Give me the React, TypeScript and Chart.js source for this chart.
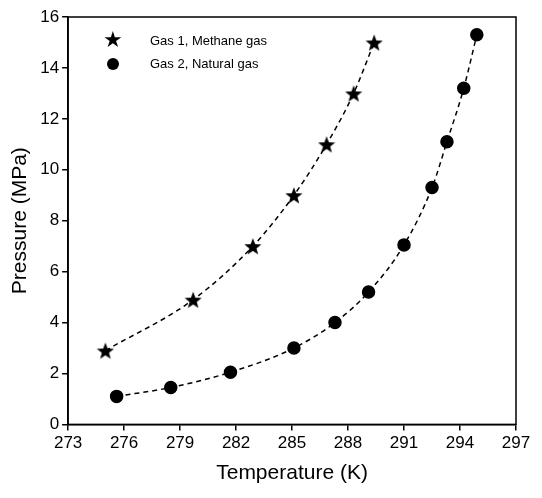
import React, { useEffect, useRef } from "react";
import { Chart, registerables } from "chart.js";
Chart.register(...registerables);

const gas1T = [275.0, 279.7, 282.9, 285.1, 286.85, 288.3, 289.4];
const gas1P = [2.9, 4.9, 7.0, 9.0, 11.0, 13.0, 15.0];
const gas2T = [275.6, 278.5, 281.7, 285.1, 287.3, 289.1, 291.0, 292.5, 293.3, 294.2, 294.9];
const gas2P = [1.1, 1.45, 2.05, 3.0, 4.0, 5.2, 7.05, 9.3, 11.1, 13.2, 15.3];
const legendLabels = ["Gas 1,  Methane gas", "Gas 2,  Natural gas"];

function starImg(size: number) {
  const c = document.createElement("canvas");
  c.width = size; c.height = size;
  const ctx = c.getContext("2d")!;
  const cx = size / 2, cy = size / 2 + 1, R = size / 2, r = R * 0.42;
  ctx.beginPath();
  for (let i = 0; i < 10; i++) {
    const a = -Math.PI / 2 + (i * Math.PI) / 5;
    const rad = i % 2 === 0 ? R : r;
    ctx.lineTo(cx + rad * Math.cos(a), cy + rad * Math.sin(a));
  }
  ctx.closePath();
  ctx.fillStyle = "#000";
  ctx.fill();
  return c;
}

const frame = {
  id: "frame",
  afterDraw(chart: any) {
    const { ctx, chartArea: a } = chart;
    ctx.save();
    ctx.strokeStyle = "#000";
    ctx.lineWidth = 1.5;
    ctx.strokeRect(a.left, a.top, a.right - a.left, a.bottom - a.top);
    ctx.restore();
  },
};

export default function App() {
  const ref = useRef<HTMLCanvasElement>(null);
  useEffect(() => {
    const star = starImg(18);
    const font = { family: "Liberation Sans, Arial", size: 17 };
    const tfont = { family: "Liberation Sans, Arial", size: 21 };
    const chart = new Chart(ref.current!, {
      type: "scatter",
      data: {
        datasets: [
          {
            data: gas1T.map((t, i) => ({ x: t, y: gas1P[i] })),
            showLine: true, borderColor: "#000", borderWidth: 1.5, borderDash: [5, 4],
            cubicInterpolationMode: "monotone", pointStyle: star as any, pointRadius: 8,
          },
          {
            data: gas2T.map((t, i) => ({ x: t, y: gas2P[i] })),
            showLine: true, borderColor: "#000", borderWidth: 1.5, borderDash: [5, 4],
            cubicInterpolationMode: "monotone", pointStyle: "circle", pointRadius: 6,
            backgroundColor: "#000", pointBorderColor: "#000",
          },
        ],
      },
      options: {
        animation: false, responsive: false,
        layout: { padding: { top: 17, right: 26, bottom: 8, left: 4 } },
        plugins: { legend: { display: false }, tooltip: { enabled: false } },
        scales: {
          x: {
            min: 273, max: 297,
            ticks: { stepSize: 3, color: "#000", font },
            grid: { drawOnChartArea: false, tickLength: 6, color: "#000", lineWidth: 1.5 },
            border: { color: "#000", width: 1.5 },
            title: { display: true, text: "Temperature (K)", color: "#000", font: tfont },
          },
          y: {
            min: 0, max: 16,
            ticks: { stepSize: 2, color: "#000", font },
            grid: { drawOnChartArea: false, tickLength: 6, color: "#000", lineWidth: 1.5 },
            border: { color: "#000", width: 1.5 },
            title: { display: true, text: "Pressure (MPa)", color: "#000", font: tfont },
          },
        },
      },
      plugins: [frame],
    });
    return () => chart.destroy();
  }, []);
  const lg: React.CSSProperties = { position: "absolute", left: 150, fontFamily: "Liberation Sans, Arial", fontSize: 13, color: "#000" };
  return (
    <div style={{ position: "fixed", left: 0, top: 0, width: 542, height: 498, background: "#fff" }}>
      <canvas ref={ref} width={542} height={498} />
      <div style={{ position: "absolute", left: 103, top: 29, fontSize: 22, lineHeight: "22px" }}>★</div>
      <div style={{ position: "absolute", left: 107, top: 58, width: 12, height: 12, borderRadius: 6, background: "#000" }} />
      <div style={{ ...lg, top: 33 }}>{legendLabels[0]}</div>
      <div style={{ ...lg, top: 56 }}>{legendLabels[1]}</div>
    </div>
  );
}
